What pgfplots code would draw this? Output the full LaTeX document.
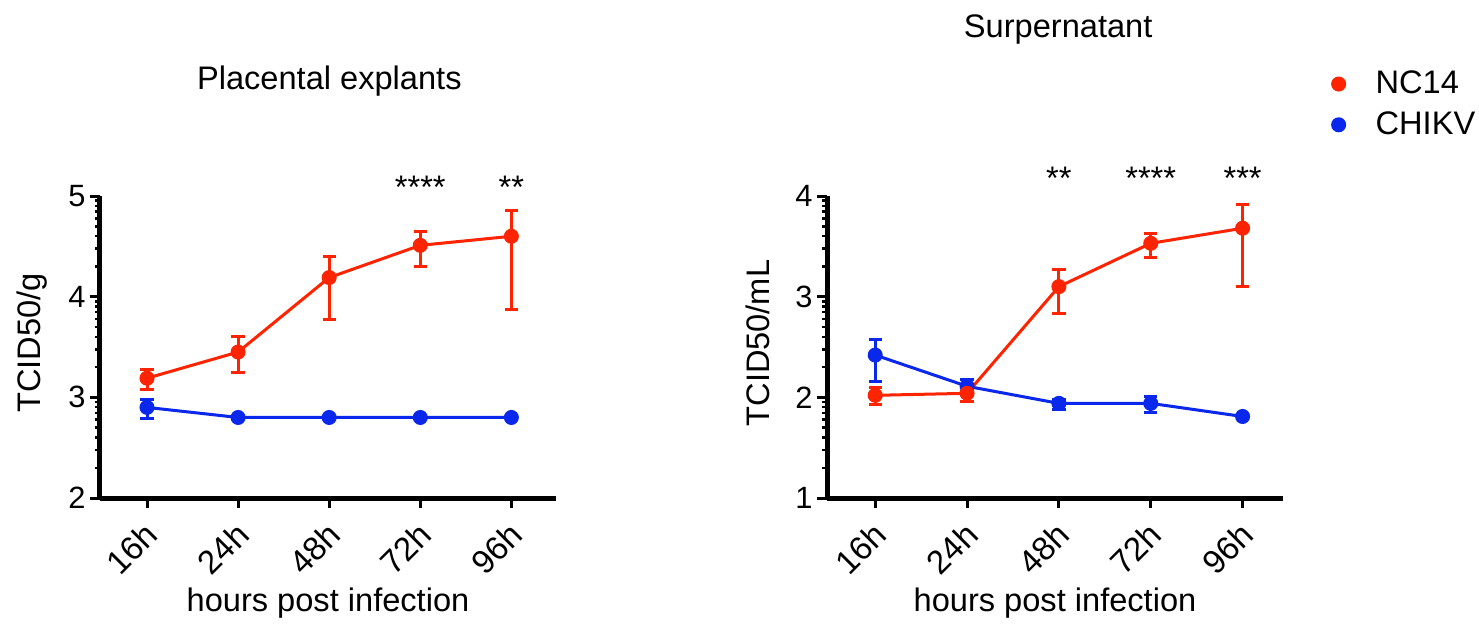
\documentclass[border=0pt]{standalone}
\usepackage{fontspec}
\setmainfont{Liberation Sans}
\usepackage{pgfplots}
\pgfplotsset{compat=1.18}
\definecolor{myred}{RGB}{255,36,0}
\definecolor{myblue}{RGB}{10,40,235}
\pgfplotsset{
  mystyle/.style={
    scale only axis, width=228pt, height=151pt,
    axis lines=left, axis line style={line width=2.5pt, -},
    xmin=-0.516, xmax=4.49,
    xtick={0,1,2,3,4}, xticklabels={16h,24h,48h,72h,96h},
    tick align=outside, major tick length=5pt, minor tick length=2.5pt,
    every tick/.style={line width=1.5pt, black},
    minor tick style={line width=1.2pt},
    yticklabel style={font=\fontsize{15.4}{18}\selectfont, inner sep=2pt},
    xticklabel style={font=\fontsize{16.6}{20}\selectfont, xshift=-2pt, yshift=-4.5pt, rotate=45, anchor=north east, inner sep=1pt},
    /pgf/number format/assume math mode=true,
    clip=false,
    xlabel={hours post infection},
    xlabel style={at={(axis description cs:0.5,-0.377)}, anchor=base},
    every axis plot/.append style={line width=1.5pt, mark=*, mark size=3pt},
    error bars/error bar style={line width=1.5pt},
    error bars/error mark options={rotate=90, mark size=3.3pt, line width=1.5pt},
  }
}
\begin{document}
\begin{tikzpicture}[font=\fontsize{16.3}{19.5}\selectfont]
\path[use as bounding box] (0,0) rectangle (739.5pt,311.5pt);
% Left panel
\begin{axis}[mystyle, at={(50pt,62.5pt)}, anchor=south west,
  ymin=2, ymax=5, ytick={2,3,4,5},
  minor ytick={2.301,2.477,2.602,2.699,2.778,2.845,2.903,2.954,
               3.301,3.477,3.602,3.699,3.778,3.845,3.903,3.954,
               4.301,4.477,4.602,4.699,4.778,4.845,4.903,4.954},
  ylabel={TCID50/g},
  ylabel style={at={(axis description cs:-0.13,0.513)}, anchor=base, rotate=0},
]
\addplot[myblue, mark options={fill=myblue, draw=myblue},
  error bars/.cd, y dir=both, y explicit]
  coordinates {(0,2.90) += (0,0.08) -= (0,0.11)
               (1,2.80) (2,2.80) (3,2.80) (4,2.80)};
\addplot[myred, mark options={fill=myred, draw=myred},
  error bars/.cd, y dir=both, y explicit]
  coordinates {(0,3.19) += (0,0.09) -= (0,0.11)
               (1,3.45) += (0,0.15) -= (0,0.20)
               (2,4.19) += (0,0.21) -= (0,0.42)
               (3,4.51) += (0,0.14) -= (0,0.21)
               (4,4.60) += (0,0.26) -= (0,0.73)};
\node[anchor=base] at (axis cs:3,4.98) {****};
\node[anchor=base] at (axis cs:4,4.98) {**};
\node[anchor=base] at (axis description cs:0.503,1.354) {Placental explants};
\end{axis}
% Right panel
\begin{axis}[mystyle, at={(413.5pt,62.5pt)}, anchor=south west,
  xmin=-0.525, xmax=4.44,
  ymin=1, ymax=4, ytick={1,2,3,4},
  minor ytick={1.301,1.477,1.602,1.699,1.778,1.845,1.903,1.954,
               2.301,2.477,2.602,2.699,2.778,2.845,2.903,2.954,
               3.301,3.477,3.602,3.699,3.778,3.845,3.903,3.954},
  ylabel={TCID50/mL},
  ylabel style={at={(axis description cs:-0.1255,0.513)}, anchor=base, rotate=0},
  legend style={at={(axis description cs:1.108,1.428)}, anchor=north west,
    draw=none, fill=none, row sep=3.5pt, inner sep=0pt,
    font=\fontsize{16.3}{19.5}\selectfont,
    /tikz/every odd column/.append style={column sep=13.5pt}},
  legend cell align=left,
]
\addplot[myblue, mark options={fill=myblue, draw=myblue}, forget plot,
  error bars/.cd, y dir=both, y explicit]
  coordinates {(0,2.42) += (0,0.15) -= (0,0.26)
               (1,2.11) += (0,0.07) -= (0,0.08)
               (2,1.94) += (0,0.04) -= (0,0.06)
               (3,1.94) += (0,0.07) -= (0,0.09)
               (4,1.81) += (0,0.02) -= (0,0.02)};
\addplot[myred, mark options={fill=myred, draw=myred}, forget plot,
  error bars/.cd, y dir=both, y explicit]
  coordinates {(0,2.02) += (0,0.08) -= (0,0.09)
               (1,2.04) += (0,0.06) -= (0,0.08)
               (2,3.10) += (0,0.17) -= (0,0.27)
               (3,3.53) += (0,0.10) -= (0,0.14)
               (4,3.68) += (0,0.24) -= (0,0.58)};
\addlegendimage{only marks, mark=*, mark size=3pt, myred, mark options={fill=myred, draw=myred}}
\addlegendentry{NC14}
\addlegendimage{only marks, mark=*, mark size=3pt, myblue, mark options={fill=myblue, draw=myblue}}
\addlegendentry{CHIKV}
\node[anchor=base] at (axis cs:2,4.06) {**};
\node[anchor=base] at (axis cs:3,4.06) {****};
\node[anchor=base] at (axis cs:4,4.06) {***};
\node[anchor=base] at (axis description cs:0.507,1.526) {Surpernatant};
\end{axis}
\end{tikzpicture}
\end{document}
